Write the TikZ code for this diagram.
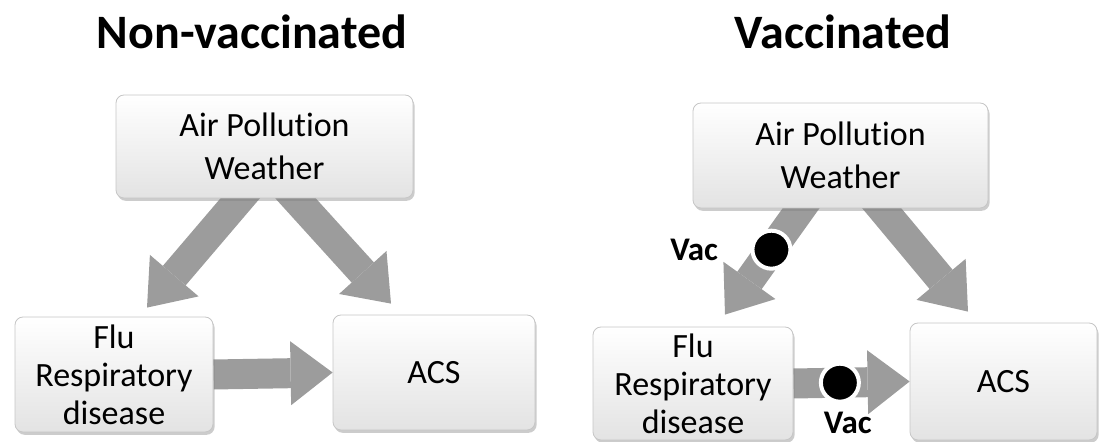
\documentclass[tikz,border=0pt]{standalone}
\usepackage{fontspec}
\setmainfont[Ligatures={NoCommon,NoContextual,NoRare}]{Carlito}
\usetikzlibrary{arrows.meta,positioning,calc,shadows,backgrounds}
\tikzset{
  softbox/.style={draw=gray!45, rounded corners=4pt, top color=white, bottom color=gray!22,
    drop shadow={opacity=0.4,shadow xshift=0.8pt,shadow yshift=-1.4pt},
    align=center, inner sep=0pt, font=\fontsize{17}{19}\selectfont},
  fatarrow/.style={draw=gray!78, line width=15pt, -{Triangle[length=21pt,width=32pt,line width=0pt]}},
  vacdot/.style={circle, fill=black, draw=white, line width=2pt, minimum size=19pt, inner sep=0pt},
  vaclabel/.style={font=\fontsize{16.5}{18}\selectfont\bfseries, inner sep=1pt},
  paneltitle/.style={font=\fontsize{24}{28}\selectfont\bfseries}
}
\newcommand{\airtext}{Air Pollut\kern0pt ion\\[2.5pt]Weather}
\begin{document}
\begin{tikzpicture}[x=0.5pt,y=0.5pt,yscale=-1,xscale=1]
        \useasboundingbox (0,0) rectangle (1099,442);
        % Titles
        \draw (252,32) node [paneltitle] (tnon) {Non-vaccinated};
        \draw (843,32) node [paneltitle] (tvac) {Vaccinated};
        %Shape: Rectangle, non-vaccinated
        \draw (264.5,146.5) node [softbox, minimum width=148.5pt, minimum height=51.5pt] (ap1) {\airtext};
        \draw (114,374.5) node [softbox, minimum width=99pt, minimum height=57.5pt] (flu1) {Flu\\Respiratory\\disease};
        \draw (434,372.5) node [softbox, minimum width=101pt, minimum height=57.5pt] (acs1) {ACS};
        %Shape: Rectangle, vaccinated
        \draw (840.5,155.5) node [softbox, minimum width=147.5pt, minimum height=52.5pt] (ap2) {\airtext};
        \draw (693,383.5) node [softbox, minimum width=100pt, minimum height=56.5pt] (flu2) {Flu\\Respiratory\\disease};
        \draw (1003.5,381.5) node [softbox, minimum width=93.5pt, minimum height=58.5pt] (acs2) {ACS};
        % Arrows
        \begin{scope}[on background layer]
        \draw [fatarrow] ($(ap1.south)+(-15,-11)$) -- ($(flu1.north)+(33,-9)$);
        \draw [fatarrow] ($(ap1.south)+(22,-10)$) -- ($(acs1.north)+(-43,-11)$);
        \draw [fatarrow] (flu1.east) -- (acs1.west);
        \draw [fatarrow] ($(ap2.south)+(-29.5,-14)$) -- ($(flu2.north)+(32,-12)$) node [vacdot, pos=0.46] (dotA) {};
        \draw [fatarrow] ($(ap2.south)+(30.5,-13)$) -- ($(acs2.north)+(-35.5,-11)$);
        \draw [fatarrow] (flu2.east) -- (acs2.west) node [vacdot, pos=0.4] (dotB) {};
        \end{scope}
        % Text Node
        \node [vaclabel, left=15pt of dotA] (vacA) {Vac};
        % Text Node
        \node [vaclabel, below=3pt of dotB, xshift=4pt] (vacB) {Vac};
\end{tikzpicture}
\end{document}
